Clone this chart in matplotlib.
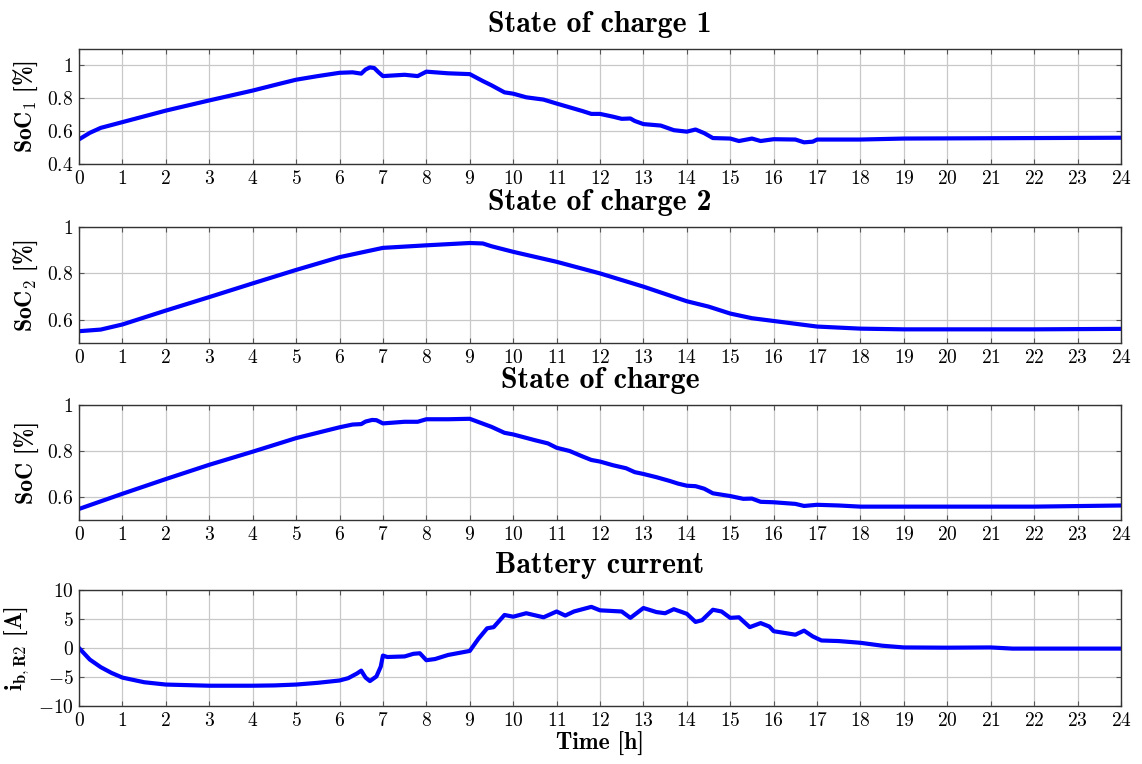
import numpy as np
import matplotlib
matplotlib.use('Agg')
import matplotlib.pyplot as plt

t_soc1 = [0, 0.25, 0.5, 1, 2, 3, 4, 4.6, 5, 5.5, 6, 6.3, 6.5, 6.6, 6.7, 6.8, 6.9, 7, 7.5, 7.8,
          8, 8.5, 9, 9.3, 9.5, 9.8, 10, 10.3, 10.7, 11, 11.3, 11.6, 11.8, 12, 12.3, 12.5,
          12.7, 12.8, 13, 13.4, 13.7, 14, 14.2, 14.4, 14.6, 15, 15.2, 15.5, 15.7, 16, 16.5,
          16.7, 16.9, 17, 18, 19, 20, 24]
soc1 = [0.55, 0.59, 0.62, 0.655, 0.725, 0.787, 0.847, 0.887, 0.913, 0.935, 0.955, 0.958,
        0.95, 0.975, 0.988, 0.984, 0.958, 0.935, 0.943, 0.935, 0.962, 0.952, 0.947, 0.905,
        0.879, 0.836, 0.828, 0.806, 0.792, 0.768, 0.745, 0.722, 0.705, 0.705, 0.688, 0.675,
        0.677, 0.662, 0.643, 0.634, 0.606, 0.597, 0.61, 0.588, 0.558, 0.555, 0.54, 0.555,
        0.54, 0.551, 0.549, 0.532, 0.536, 0.549, 0.549, 0.555, 0.556, 0.56]

t_soc2 = [0, 0.5, 1, 2, 3, 4, 5, 6, 6.5, 7, 8, 9, 9.3, 9.5, 10, 11, 12, 13, 14, 14.5, 15,
          15.5, 16, 17, 18, 19, 20, 22, 24]
soc2 = [0.551, 0.558, 0.58, 0.64, 0.698, 0.757, 0.815, 0.87, 0.89, 0.91, 0.921, 0.931,
        0.929, 0.917, 0.893, 0.85, 0.8, 0.743, 0.68, 0.657, 0.627, 0.607, 0.595, 0.571,
        0.562, 0.559, 0.559, 0.559, 0.561]

t_soc = [0, 1, 2, 3, 4, 5, 6, 6.3, 6.5, 6.6, 6.75, 6.85, 7, 7.5, 7.8, 8, 8.5, 9, 9.5, 9.8,
         10, 10.5, 10.8, 11, 11.3, 11.6, 11.8, 12, 12.3, 12.6, 12.8, 13, 13.3, 13.6, 13.8,
         14, 14.2, 14.4, 14.6, 15, 15.3, 15.5, 15.7, 16, 16.5, 16.7, 17, 17.5, 18, 19, 22, 24]
soc = [0.548, 0.614, 0.678, 0.74, 0.797, 0.856, 0.903, 0.915, 0.917, 0.928, 0.935, 0.934,
       0.92, 0.927, 0.927, 0.938, 0.938, 0.94, 0.905, 0.879, 0.872, 0.847, 0.833, 0.814,
       0.8, 0.776, 0.761, 0.754, 0.738, 0.725, 0.708, 0.7, 0.686, 0.67, 0.658, 0.649,
       0.647, 0.636, 0.616, 0.604, 0.592, 0.593, 0.579, 0.577, 0.57, 0.561, 0.566, 0.563,
       0.558, 0.558, 0.558, 0.563]

t_cur = [0, 0.25, 0.5, 0.75, 1, 1.5, 2, 2.5, 3, 4, 4.5, 5, 5.5, 6, 6.2, 6.4, 6.5, 6.6,
         6.7, 6.85, 6.95, 7, 7.1, 7.5, 7.7, 7.85, 8, 8.2, 8.5, 9, 9.2, 9.4, 9.55, 9.8, 10,
         10.3, 10.7, 11, 11.2, 11.4, 11.8, 12, 12.5, 12.7, 13, 13.3, 13.5, 13.7, 14, 14.2,
         14.35, 14.6, 14.8, 15, 15.2, 15.45, 15.7, 15.9, 16, 16.5, 16.7, 16.9, 17.1, 17.5,
         18, 18.5, 19, 20, 21, 21.5, 22, 24]
cur = [0, -2.0, -3.3, -4.3, -5.1, -5.9, -6.3, -6.4, -6.5, -6.5, -6.45, -6.3, -6.0, -5.6,
       -5.2, -4.4, -3.9, -5.1, -5.7, -4.9, -3.2, -1.3, -1.55, -1.45, -1.0, -0.9, -2.1,
       -1.9, -1.2, -0.5, 1.6, 3.4, 3.6, 5.7, 5.4, 6.0, 5.3, 6.3, 5.6, 6.3, 7.1, 6.5, 6.3,
       5.2, 6.9, 6.2, 6.0, 6.7, 5.9, 4.5, 4.8, 6.6, 6.3, 5.2, 5.3, 3.6, 4.3, 3.7, 2.9,
       2.3, 3.0, 2.0, 1.3, 1.2, 0.9, 0.4, 0.1, 0.06, 0.1, -0.1, -0.1, -0.1]

plt.rcParams['font.family'] = 'serif'
plt.rcParams['font.serif'] = ['cmr10']
plt.rcParams['mathtext.fontset'] = 'cm'
plt.rcParams['axes.formatter.use_mathtext'] = True

fig = plt.figure(figsize=(11.42, 7.64), dpi=100)

left, width = 0.0692, 0.9124
boxes = [(0.7853, 0.1506), (0.5510, 0.1519), (0.3194, 0.1505), (0.0759, 0.1518)]
panels = [
    (t_soc1, soc1, 'State of charge 1', r'SoC$_\mathbf{1}$ [%]',
     (0.4, 1.1), [0.4, 0.6, 0.8, 1.0]),
    (t_soc2, soc2, 'State of charge 2', r'SoC$_\mathbf{2}$ [%]',
     (0.5, 1.0), [0.6, 0.8, 1.0]),
    (t_soc, soc, 'State of charge', 'SoC [%]',
     (0.5, 1.0), [0.6, 0.8, 1.0]),
    (t_cur, cur, 'Battery current', r'i$_\mathbf{b,R2}$ [A]',
     (-10, 10), [-10, -5, 0, 5, 10]),
]

bold = 'cmb10'
for (bottom, height), (x, y, title, ylabel, ylim, yticks) in zip(boxes, panels):
    ax = fig.add_axes([left, bottom, width, height])
    ax.plot(x, y, color='#0000ff', linewidth=3.0, solid_joinstyle='round')
    ax.set_xlim(0, 24)
    ax.set_ylim(*ylim)
    ax.set_xticks(np.arange(0, 25, 1))
    ax.set_xticklabels(['$%d$' % v for v in range(25)])
    ax.set_yticks(yticks)
    ax.set_yticklabels(['$%g$' % v for v in yticks])
    ax.grid(True, color='#c8c8c8', linewidth=0.9)
    ax.tick_params(direction='in', top=True, right=True, length=3.5, width=0.8,
                   labelsize=14, pad=4, color='#555555')
    for s in ax.spines.values():
        s.set_linewidth(1.0)
        s.set_color('#333333')
    ax.set_title(title, fontsize=21.5, pad=12, fontfamily=bold)
    ax.set_ylabel(ylabel, fontsize=17, labelpad=5, fontfamily=bold)

ax.set_xlabel('Time [h]', fontsize=17, labelpad=2, fontfamily=bold)

fig.savefig('out.png', dpi=100)
